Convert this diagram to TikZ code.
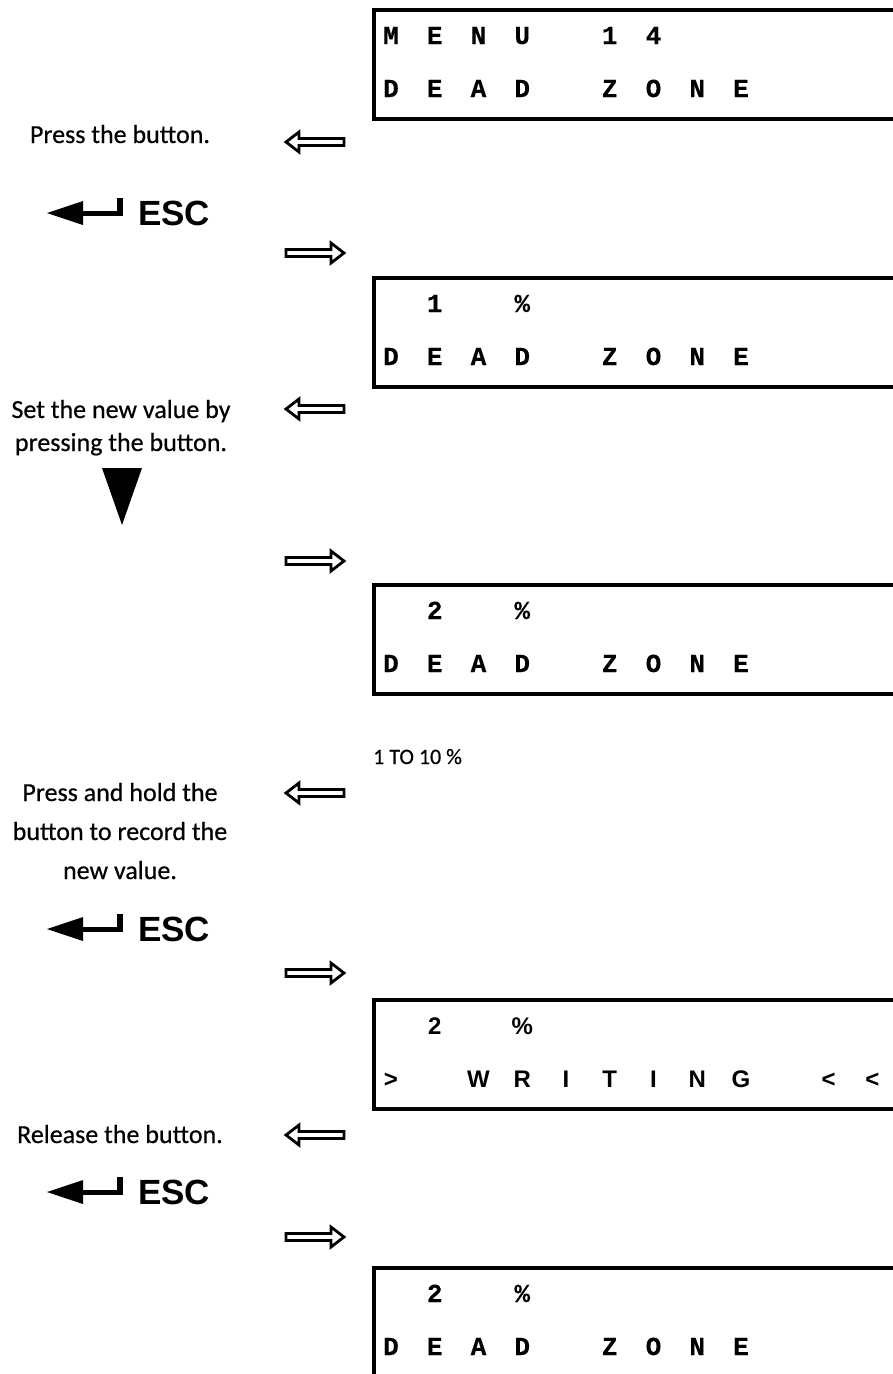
\documentclass[tikz,border=0pt]{standalone}
\usepackage{fontspec}
\setmainfont{Carlito}[FakeBold=0.5]
\newfontfamily\lcdfont{Liberation Mono}[BoldFeatures={FakeBold=0.25}]
\newfontfamily\escfont{Liberation Sans}
\tikzset{
  lcd/.style={font=\lcdfont\bfseries\fontsize{26}{26}\selectfont, anchor=base, inner sep=0pt},
  lcdsans/.style={font=\escfont\bfseries\fontsize{24}{24}\selectfont, anchor=base, inner sep=0pt},
  lbl/.style={font=\fontsize{26}{30}\selectfont, anchor=base, inner sep=0pt},
  small/.style={font=\fontsize{22}{26}\selectfont, anchor=base west, inner sep=0pt},
  esctext/.style={font=\escfont\bfseries\fontsize{35}{35}\selectfont, anchor=west, inner sep=0pt},
  lcdframe/.style={line width=4pt},
  hollow/.style={line width=2.8pt, fill=white, line join=miter},
}
\newcommand\larrow[2]{%
  \draw[hollow] (#1,#2) -- ++(13,-10) -- ++(0,6.5) -- ++(45,0) -- ++(0,7) -- ++(-45,0) -- ++(0,6.5) -- cycle;}
\newcommand\rarrow[2]{%
  \draw[hollow] (#1+58,#2) -- ++(-13,-10) -- ++(0,6.5) -- ++(-45,0) -- ++(0,7) -- ++(45,0) -- ++(0,6.5) -- cycle;}
\newcommand\escsym[3]{%
  \fill (#1,#2) -- ++(36,-12) -- ++(0,24) -- cycle;
  \fill (#1+34,#2-2.5) rectangle (#1+76,#2+2.5);
  \fill (#1+70,#2+2.5) rectangle (#1+76,#2-15);
  \node[esctext] (#3) at (#1+91,#2) {ESC};}
\newcommand\lcdframebox[1]{%
  \draw[lcdframe] (905,#1) -- (374,#1) -- (374,#1+109) -- (905,#1+109);}
\begin{document}
\begin{tikzpicture}[x=1pt,y=-1pt]
\useasboundingbox[fill=white] (0,0) rectangle (893,1374);

% ---- box 1
\lcdframebox{10}
\foreach \i/\c in {0/M,1/E,2/N,3/U,5/1,6/4}
  \node[lcd] (bA\i) at ({391+43.75*\i},44) {\c};
\foreach \i/\c in {0/D,1/E,2/A,3/D,5/Z,6/O,7/N,8/E}
  \node[lcd] (bB\i) at ({391+43.75*\i},97) {\c};

\node[lbl] (t1) at (120,143) {Press the button.};
\larrow{286}{142}
\escsym{47}{213}{esc1}
\rarrow{286}{253}

% ---- box 2
\lcdframebox{278}
\foreach \i/\c in {1/1,3/\%}
  \node[lcd] (cA\i) at ({391+43.75*\i},312) {\c};
\foreach \i/\c in {0/D,1/E,2/A,3/D,5/Z,6/O,7/N,8/E}
  \node[lcd] (cB\i) at ({391+43.75*\i},365) {\c};

\node[lbl] (t2a) at (121,418) {Set the new value by};
\node[lbl] (t2b) at (121,451) {pressing the button.};
\larrow{286}{409}
\fill (102,468) -- (142,468) -- (122,525) -- cycle;
\rarrow{286}{561}

% ---- box 3
\lcdframebox{585}
\foreach \i/\c in {1/2,3/\%}
  \node[lcd] (dA\i) at ({391+43.75*\i},619) {\c};
\foreach \i/\c in {0/D,1/E,2/A,3/D,5/Z,6/O,7/N,8/E}
  \node[lcd] (dB\i) at ({391+43.75*\i},672) {\c};

\node[small] (range) at (373,764) {1 TO 10 \%};
\node[lbl] (t3a) at (120,801) {Press and hold the};
\node[lbl] (t3b) at (120,840) {button to record the};
\node[lbl] (t3c) at (120,879) {new value.};
\larrow{286}{793}
\escsym{47}{929}{esc2}
\rarrow{286}{973}

% ---- box 4
\lcdframebox{1000}
\foreach \i/\c in {1/2,3/\%}
  \node[lcdsans] (eA\i) at ({391+43.75*\i},1034) {\c};
\foreach \i/\c in {0/>,2/W,3/R,4/I,5/T,6/I,7/N,8/G,10/<,11/<}
  \node[lcdsans] (eB\i) at ({391+43.75*\i},1087) {\c};

\node[lbl] (t4) at (120,1143) {Release the button.};
\larrow{286}{1135}
\escsym{47}{1192}{esc3}
\rarrow{286}{1237}

% ---- box 5
\draw[lcdframe] (905,1268) -- (374,1268) -- (374,1380);
\foreach \i/\c in {1/2,3/\%}
  \node[lcd] (fA\i) at ({391+43.75*\i},1302) {\c};
\foreach \i/\c in {0/D,1/E,2/A,3/D,5/Z,6/O,7/N,8/E}
  \node[lcd] (fB\i) at ({391+43.75*\i},1355) {\c};
\end{tikzpicture}
\end{document}
